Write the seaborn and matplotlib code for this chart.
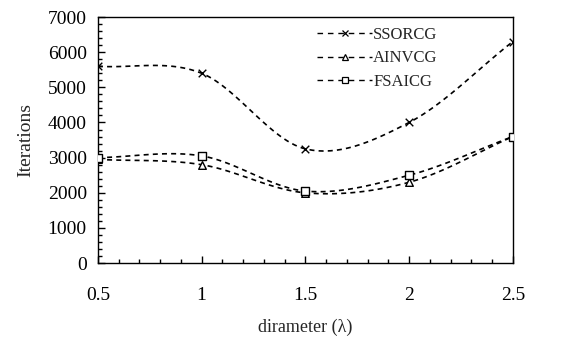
import numpy as np
import pandas as pd
import matplotlib
matplotlib.use("Agg")
import matplotlib.pyplot as plt
import seaborn as sns
from matplotlib.lines import Line2D

diameter = [0.5, 1.0, 1.5, 2.0, 2.5]
ssorcg = [5600, 5400, 3250, 4000, 6300]
ainvcg = [2950, 2800, 2000, 2300, 3600]
fsaicg = [3000, 3050, 2050, 2500, 3600]
series_names = ["SSORCG", "AINVCG", "FSAICG"]
x_ticks = [0.5, 1, 1.5, 2, 2.5]
y_ticks = [0, 1000, 2000, 3000, 4000, 5000, 6000, 7000]

sns.set_theme(style="white")
plt.rcParams["font.family"] = ["Liberation Serif", "DejaVu Serif"]


def smooth(x, y, n=30):
    # Catmull-Rom spline through the data points (like Excel's smoothed line)
    x = np.asarray(x, float)
    y = np.asarray(y, float)
    px = np.concatenate([[2 * x[0] - x[1]], x, [2 * x[-1] - x[-2]]])
    py = np.concatenate([[2 * y[0] - y[1]], y, [2 * y[-1] - y[-2]]])
    xs, ys = [], []
    t = np.linspace(0, 1, n)
    for i in range(1, len(px) - 2):
        for arr, out in ((px, xs), (py, ys)):
            p0, p1, p2, p3 = arr[i - 1], arr[i], arr[i + 1], arr[i + 2]
            seg = 0.5 * ((2 * p1) + (-p0 + p2) * t + (2 * p0 - 5 * p1 + 4 * p2 - p3) * t ** 2
                         + (-p0 + 3 * p1 - 3 * p2 + p3) * t ** 3)
            out.extend(seg if i == 1 else seg[1:])
    return np.array(xs), np.array(ys)


fig = plt.figure(figsize=(5.66, 3.4), dpi=100)
ax = fig.add_axes([0.173, 0.226, 0.733, 0.724])

markers = {"SSORCG": "x", "AINVCG": "^", "FSAICG": "s"}
data = {"SSORCG": ssorcg, "AINVCG": ainvcg, "FSAICG": fsaicg}

handles = []
for name in series_names:
    sx, sy = smooth(diameter, data[name])
    sdf = pd.DataFrame({"x": sx, "y": sy})
    sns.lineplot(data=sdf, x="x", y="y", ax=ax, color="black", lw=1.2,
                 linestyle=(0, (3, 2.5)), sort=False, estimator=None)
    pdf = pd.DataFrame({"x": diameter, "y": data[name]})
    m = markers[name]
    if m == "x":
        sns.scatterplot(data=pdf, x="x", y="y", ax=ax, marker="x", color="black",
                        s=30, linewidth=1.0, zorder=5)
    else:
        sns.scatterplot(data=pdf, x="x", y="y", ax=ax, marker=m, facecolor="white",
                        edgecolor="black", s=30, linewidth=1.0, zorder=5)
    handles.append(Line2D([], [], color="black", lw=1.0, linestyle=(0, (4, 3.5)),
                          marker=m, markersize=5, markerfacecolor="white",
                          markeredgecolor="black", markeredgewidth=0.9))

ax.set_xlim(0.5, 2.5)
ax.set_ylim(0, 7000)
ax.set_xticks(x_ticks)
ax.set_xticklabels(["0.5", "1", "1.5", "2", "2.5"])
ax.set_yticks(y_ticks)
ax.set_xticks(np.arange(0.5, 2.51, 0.1), minor=True)
ax.set_yticks(np.arange(0, 7001, 200), minor=True)
ax.tick_params(axis="both", which="both", direction="in", colors="black",
               labelsize=14, width=1)
ax.tick_params(axis="both", which="major", length=5, pad=8)
ax.tick_params(axis="both", which="minor", length=3)
ax.tick_params(axis="x", which="both", bottom=True, top=False)
ax.tick_params(axis="y", which="both", left=True, right=False)
ax.tick_params(axis="x", which="major", pad=17)

for s in ax.spines.values():
    s.set_color("black")
    s.set_linewidth(1.0)

ax.set_xlabel("dirameter (λ)", fontsize=13, labelpad=11)
ax.set_ylabel("Iterations", fontsize=14, labelpad=10)

ax.legend(handles, series_names, loc="upper left", bbox_to_anchor=(0.505, 1.0),
          frameon=False, fontsize=12, handlelength=3.3, handletextpad=0.05,
          labelspacing=0.45, borderaxespad=0.2)

fig.savefig("out.png", dpi=100)
